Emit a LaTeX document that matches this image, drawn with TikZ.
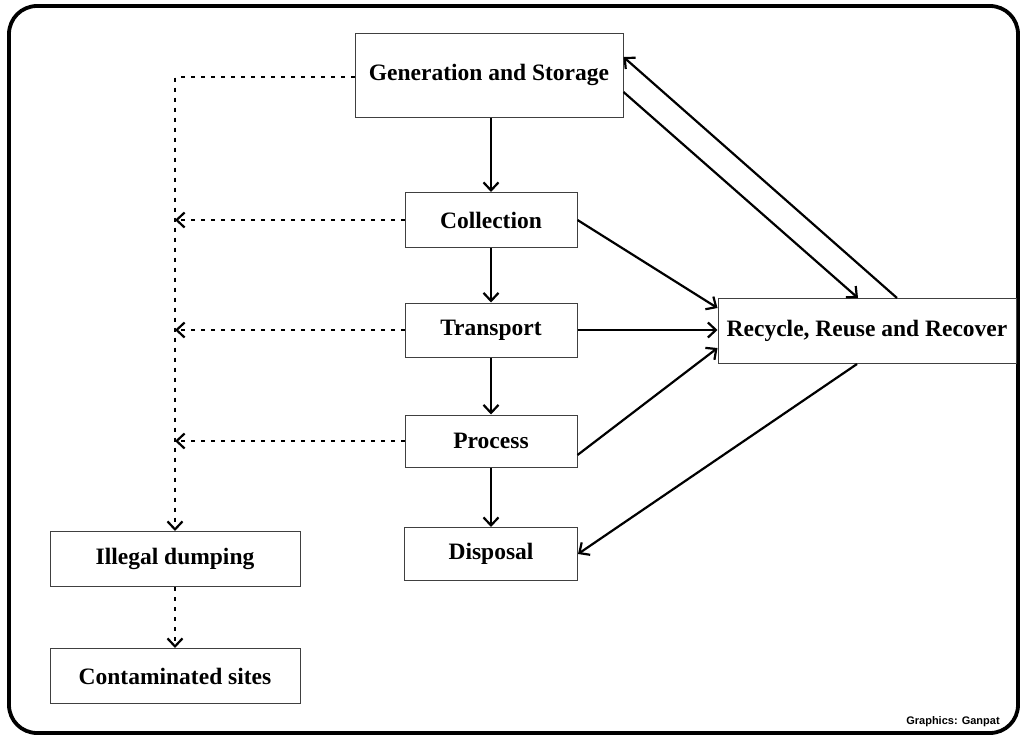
\documentclass[tikz,border=0pt]{standalone}
\usepackage{fontspec}
\setmainfont{Liberation Serif}
\newfontfamily\credfont{Liberation Sans}
\usetikzlibrary{arrows.meta,calc}
\begin{document}
\begin{tikzpicture}[x=1pt,y=-1pt,
  box/.style={draw=black!75,line width=1pt,fill=white,inner sep=0pt,
    font=\fontsize{23.5}{25}\selectfont\bfseries},
  flow/.style={line width=2.2pt,-{Straight Barb[length=8pt,width=15pt,line width=2.2pt]}},
  leak/.style={line width=2.4pt,dash pattern=on 4pt off 6pt,-{Straight Barb[length=8pt,width=15pt,line width=2.2pt]}}
]
\useasboundingbox (0,0) rectangle (1023,736);
\draw[line width=3.8pt,rounded corners=28pt] (9,6) rectangle (1018,733);

\node[box,minimum width=268pt,minimum height=84pt] (gen) at (489,75) {Generation and Storage};
\node[box,minimum width=172pt,minimum height=55pt] (coll) at (491,220) {Collection};
\node[box,minimum width=172pt,minimum height=54pt] (trans) at (491,330) {Transport};
\node[box,minimum width=172pt,minimum height=52pt] (proc) at (491,441) {Process};
\node[box,minimum width=173pt,minimum height=53pt] (disp) at (491,554) {Disposal};
\node[box,minimum width=298pt,minimum height=65pt] (rec) at (867,331) {Recycle, Reuse and Recover};
\node[box,minimum width=250pt,minimum height=55pt] (ill) at (175,559) {Illegal dumping};
\node[box,minimum width=250pt,minimum height=55pt] (cont) at (175,676) {Contaminated sites};

\node[font=\credfont\fontsize{11}{12}\selectfont\bfseries] (cred) at (953,722) {Graphics: Ganpat};

\coordinate (c0) at (175,77);

% vertical flow
\draw[flow] (gen.south -| coll.north) -- (coll.north);
\draw[flow] (coll) -- (trans);
\draw[flow] (trans) -- (proc);
\draw[flow] (proc) -- (disp);

% to recycling
\draw[flow] (coll.east) -- ([yshift=23pt]rec.west);
\draw[flow] (trans.east) -- (trans.east -| rec.west);
\draw[flow] ([yshift=-14pt]proc.east) -- ([yshift=-17pt]rec.west);
\draw[flow] ([xshift=-10pt]rec.south) -- (disp.east);
\draw[flow] ([yshift=-17pt]gen.east) -- ([xshift=-9pt]rec.north);
\draw[flow] ([xshift=30pt]rec.north) -- ([yshift=18pt]gen.east);

% illegal routes
\draw[leak] (gen.west |- c0) -- (c0) -- (ill.north);
\draw[leak] (coll.west) -- (coll.west -| c0);
\draw[leak] (trans.west) -- (trans.west -| c0);
\draw[leak] (proc.west) -- (proc.west -| c0);
\draw[leak] (ill.south) -- (cont.north);
\end{tikzpicture}
\end{document}
